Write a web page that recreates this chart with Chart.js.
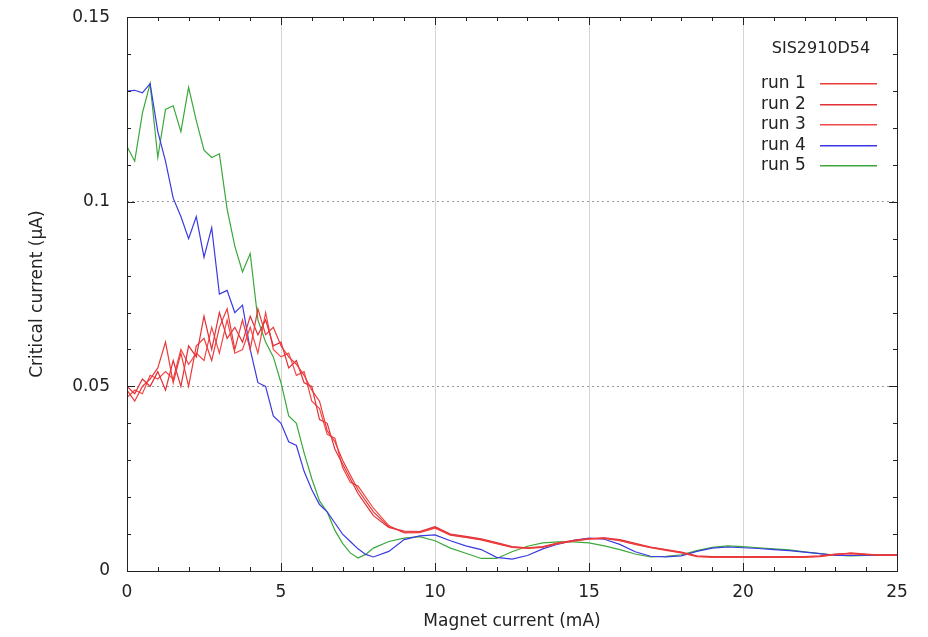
<!DOCTYPE html>
<html>
<head>
<meta charset="utf-8">
<script src="https://cdn.jsdelivr.net/npm/chart.js@4/dist/chart.umd.min.js"></script>
<style>
  html, body { margin: 0; padding: 0; background: #ffffff; overflow: hidden; }
  canvas { display: block; }
</style>
</head>
<body>
<canvas id="chart" width="928" height="637" style="width:928px;height:637px"></canvas>
<script>
// Magnet current (mA)
const X = [0,0.25,0.5,0.75,1,1.25,1.5,1.75,2,2.25,2.5,2.75,3,3.25,3.5,3.75,4,4.25,4.5,4.75,5,5.25,5.5,5.75,6,6.25,6.5,6.75,7,7.25,7.5,7.75,8,
  8.5,9,9.5,10,10.5,11,11.5,12,12.5,13,13.5,14,14.5,15,15.5,16,16.5,17,17.5,18,18.5,19,19.5,20,20.5,21,21.5,22,22.5,23,23.5,24,24.5,25];

// Critical current (uA), one list per run
const RUN1 = [0.049,0.046,0.050,0.052,0.055,0.062,0.051,0.059,0.050,0.061,0.063,0.057,0.066,0.071,0.060,0.068,0.060,0.071,0.064,0.066,0.061,0.058,0.056,0.053,0.049,0.046,0.038,0.035,0.030,0.026,0.022,0.019,0.016,
  0.0120,0.0105,0.0105,0.0118,0.0098,0.0092,0.0085,0.0075,0.0065,0.0062,0.0065,0.0075,0.0082,0.0087,0.0089,0.0083,0.0073,0.0064,0.0057,0.0050,0.0040,0.0038,0.0038,0.0038,0.0038,0.0038,0.0038,0.0038,0.0040,0.0045,0.0048,0.0045,0.0043,0.0043];
const RUN2 = [0.050,0.048,0.052,0.050,0.054,0.049,0.057,0.050,0.061,0.058,0.069,0.060,0.070,0.063,0.066,0.062,0.069,0.064,0.068,0.061,0.062,0.055,0.057,0.051,0.050,0.041,0.040,0.033,0.029,0.025,0.021,0.018,0.015,
  0.0118,0.0108,0.0107,0.0120,0.0100,0.0094,0.0087,0.0077,0.0066,0.0063,0.0066,0.0076,0.0083,0.0088,0.0090,0.0085,0.0075,0.0065,0.0058,0.0051,0.0041,0.0039,0.0039,0.0038,0.0039,0.0038,0.0039,0.0039,0.0041,0.0046,0.0047,0.0044,0.0043,0.0043];
const RUN3 = [0.047,0.049,0.048,0.053,0.052,0.054,0.052,0.060,0.056,0.059,0.057,0.066,0.059,0.068,0.059,0.060,0.066,0.059,0.070,0.060,0.058,0.059,0.053,0.054,0.046,0.044,0.037,0.036,0.028,0.024,0.023,0.020,0.017,
  0.0123,0.0103,0.0104,0.0116,0.0097,0.0091,0.0084,0.0074,0.0064,0.0061,0.0064,0.0074,0.0081,0.0086,0.0088,0.0082,0.0072,0.0063,0.0056,0.0049,0.0039,0.0037,0.0037,0.0037,0.0037,0.0037,0.0037,0.0037,0.0039,0.0044,0.0049,0.0046,0.0043,0.0043];
const RUN4 = [0.130,0.1302,0.1295,0.132,0.119,0.111,0.101,0.096,0.090,0.096,0.085,0.093,0.075,0.076,0.070,0.072,0.060,0.051,0.050,0.042,0.040,0.035,0.034,0.027,0.022,0.018,0.016,0.013,0.010,0.008,0.006,0.0045,0.0038,
  0.0053,0.0085,0.0095,0.0098,0.0082,0.0068,0.0058,0.0037,0.0032,0.0042,0.0060,0.0073,0.0083,0.0089,0.0086,0.0072,0.0052,0.0040,0.0038,0.0041,0.0053,0.0062,0.0065,0.0063,0.0061,0.0058,0.0055,0.0051,0.0047,0.0042,0.0042,0.0043,0.0043,0.0043];
const RUN5 = [0.115,0.111,0.124,0.132,0.112,0.125,0.126,0.119,0.131,0.122,0.114,0.112,0.113,0.098,0.088,0.081,0.086,0.068,0.062,0.058,0.051,0.042,0.040,0.032,0.025,0.019,0.016,0.011,0.0075,0.0049,0.0035,0.0045,0.0062,
  0.0080,0.0089,0.0093,0.0082,0.0062,0.0048,0.0034,0.0034,0.0052,0.0067,0.0076,0.0079,0.0079,0.0076,0.0068,0.0058,0.0046,0.0038,0.0040,0.0044,0.0055,0.0064,0.0068,0.0066,0.0063,0.0060,0.0057,0.0052,0.0047,0.0043,0.0041,0.0042,0.0043,0.0043];

const SERIES_LABELS = ['run 1','run 2','run 3','run 4','run 5'];
const SERIES_VALUES = [RUN1, RUN2, RUN3, RUN4, RUN5];
const SERIES_COLORS = ['rgb(236,58,58)','rgb(226,48,56)','rgb(242,72,72)','rgb(58,58,226)','rgb(58,168,58)'];
const LEGEND_TITLE = 'SIS2910D54';
const X_TICKS = [0,5,10,15,20,25];
const Y_TICKS = [0,0.05,0.1,0.15];

const FONT = 'DejaVu Sans';

const datasets = SERIES_VALUES.map((vals, k) => ({
  label: SERIES_LABELS[k],
  data: X.map((x, i) => ({x: x, y: vals[i]})),
  borderColor: SERIES_COLORS[k],
  backgroundColor: SERIES_COLORS[k],
  borderWidth: 1.2,
  pointRadius: 0,
  showLine: true,
  tension: 0,
  fill: false
}));

const gnuFrame = {
  id: 'gnuFrame',
  afterDraw(chart) {
    const {ctx, chartArea: a, scales: {x, y}} = chart;
    ctx.save();
    ctx.fillStyle = '#222222';
    for (let v = 0; v <= 25; v += 1) {
      const px = Math.round(x.getPixelForValue(v));
      const L = (v % 5 === 0) ? 8 : 4;
      ctx.fillRect(px, Math.round(a.bottom) - L, 1, L);
      ctx.fillRect(px, Math.round(a.top), 1, L);
    }
    for (let i = 0; i <= 15; i++) {
      const py = Math.round(y.getPixelForValue(i / 100));
      const L = (i % 5 === 0) ? 8 : 4;
      ctx.fillRect(Math.round(a.left), py, L, 1);
      ctx.fillRect(Math.round(a.right) - L, py, L, 1);
    }
    const l = Math.round(a.left), t = Math.round(a.top), r = Math.round(a.right), b = Math.round(a.bottom);
    ctx.fillRect(l, t, r - l + 1, 1);
    ctx.fillRect(l, b, r - l + 1, 1);
    ctx.fillRect(l, t, 1, b - t + 1);
    ctx.fillRect(r, t, 1, b - t + 1);

    // legend: text on the left, sample line on the right
    ctx.font = '16px "' + FONT + '"';
    ctx.textAlign = 'center';
    ctx.textBaseline = 'middle';
    ctx.fillText(LEGEND_TITLE, 821, 49);
    ctx.font = '17px "' + FONT + '"';
    ctx.textAlign = 'left';
    for (let k = 0; k < SERIES_LABELS.length; k++) {
      const yy = Math.round(84 + k * 20.6);
      ctx.fillStyle = '#222222';
      ctx.fillText(SERIES_LABELS[k], 761, yy);
      ctx.fillStyle = SERIES_COLORS[k];
      ctx.fillRect(820, yy - 1, 57, 1.5);
    }
    ctx.restore();
  }
};

new Chart(document.getElementById('chart'), {
  type: 'scatter',
  data: { datasets },
  options: {
    responsive: false,
    animation: false,
    devicePixelRatio: 1,
    layout: { padding: { top: 0, right: 31, left: 0, bottom: 0 } },
    plugins: { legend: { display: false }, tooltip: { enabled: false } },
    scales: {
      x: {
        type: 'linear', min: 0, max: 25,
        afterFit(s) { s.height = 66; },
        afterBuildTicks(s) { s.ticks = X_TICKS.map(v => ({value: v})); },
        ticks: { color: '#222', font: { family: FONT, size: 17 }, padding: 11, maxRotation: 0 },
        grid: { color: '#d4d4d4', lineWidth: 1, drawTicks: false },
        border: { display: false },
        title: { display: true, text: 'Magnet current (mA)', color: '#222', font: { family: FONT, size: 17 }, padding: { top: 0, bottom: 5 } }
      },
      y: {
        type: 'linear', min: 0, max: 0.15,
        afterFit(s) { s.width = 127; },
        afterBuildTicks(s) { s.ticks = Y_TICKS.map(v => ({value: v})); },
        ticks: { color: '#222', font: { family: FONT, size: 17 }, padding: 7, callback: v => String(+v.toFixed(2)) },
        grid: { color: '#9a9a9a', lineWidth: 1, drawTicks: true, tickLength: 10, tickColor: 'rgba(0,0,0,0)' },
        border: { display: false, dash: [2, 3] },
        title: { display: true, text: 'Critical current (µA)', color: '#222', font: { family: FONT, size: 17 }, padding: { top: 27, bottom: 0 } }
      }
    }
  },
  plugins: [gnuFrame]
});
</script>
</body>
</html>
